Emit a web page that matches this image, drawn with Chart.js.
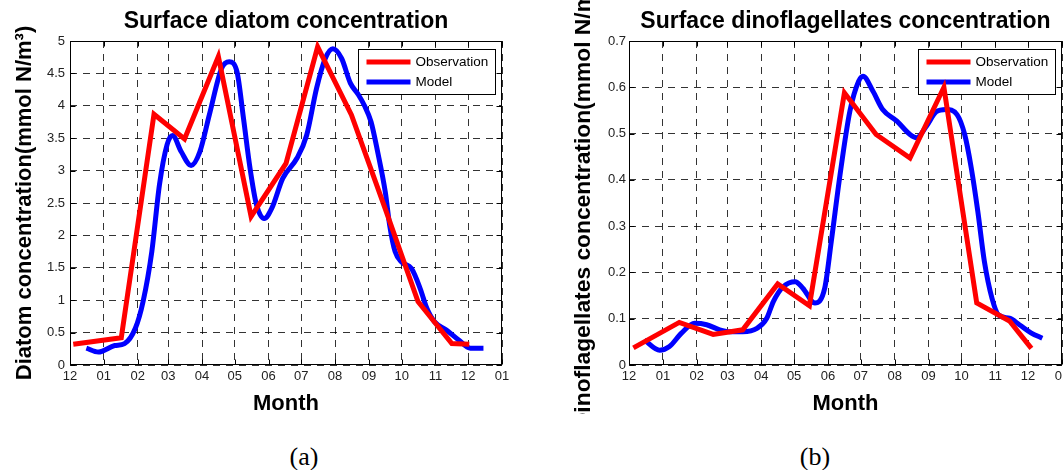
<!DOCTYPE html>
<html>
<head>
<meta charset="utf-8">
<script src="https://cdn.jsdelivr.net/npm/chart.js@4.4.1/dist/chart.umd.min.js"></script>
<style>
  html, body { margin: 0; padding: 0; background: #fff; overflow: hidden; width: 1063px; height: 470px; }
  canvas { position: absolute; top: 0; }
  #chartA { left: 0; }
  #chartB { left: 530px; }
  .tag { position: absolute; width: 120px; text-align: center; top: 442px; line-height: 30px;
         font-family: "Liberation Serif", "Times New Roman", serif; font-size: 26px; color: #000; }
</style>
</head>
<body>
<canvas id="chartA" width="530" height="414"></canvas>
<canvas id="chartB" width="545" height="414"></canvas>
<div class="tag" style="left:244px">(a)</div>
<div class="tag" style="left:755px">(b)</div>
<script>
// x axis: days counted from 1 December, one tick per month start
const monthDays = [0, 31, 62, 90, 121, 151, 182, 212, 243, 274, 304, 335, 365, 396];
const monthLabels = ['12', '01', '02', '03', '04', '05', '06', '07', '08', '09', '10', '11', '12', '01'];

// (a) surface diatom
const diatomTicks = [0, 0.5, 1, 1.5, 2, 2.5, 3, 3.5, 4, 4.5, 5];
const diatomObsDay = [3, 47, 77, 105, 136, 166, 198, 227, 258, 289, 319, 350, 366];
const diatomObs = [0.32, 0.42, 3.87, 3.49, 4.76, 2.29, 3.11, 4.91, 3.86, 2.41, 0.98, 0.33, 0.32];
const diatomModelDay = [15, 26, 41, 50, 60, 67, 75, 82, 89, 94, 102, 111, 119, 128, 139, 146, 153, 159, 165, 171,
  178, 185, 195, 208, 217, 226, 234, 241, 249, 257, 264, 270, 276, 282, 289, 293, 298, 304, 313, 321, 327, 334,
  345, 356, 367, 379];
const diatomModel = [0.26, 0.20, 0.30, 0.33, 0.57, 0.98, 1.75, 2.78, 3.40, 3.54, 3.29, 3.08, 3.29, 3.88, 4.58, 4.68,
  4.53, 3.81, 3.04, 2.47, 2.26, 2.42, 2.88, 3.19, 3.55, 4.27, 4.73, 4.88, 4.73, 4.35, 4.18, 4.00, 3.75, 3.29, 2.67,
  2.16, 1.75, 1.59, 1.49, 1.18, 0.88, 0.67, 0.54, 0.39, 0.26, 0.26];

// (b) surface dinoflagellates
const dinoTicks = [0, 0.1, 0.2, 0.3, 0.4, 0.5, 0.6, 0.7];
const dinoObsDay = [4, 46, 77, 104, 136, 165, 197, 226, 257, 288, 318, 348, 368];
const dinoObs = [0.037, 0.092, 0.066, 0.076, 0.175, 0.128, 0.588, 0.498, 0.447, 0.600, 0.134, 0.095, 0.036];
const dinoModelDay = [14, 28, 37, 48, 60, 71, 83, 92, 104, 117, 126, 132, 141, 152, 159, 170, 179, 185, 193, 202,
  210, 214, 223, 232, 245, 257, 263, 272, 281, 290, 300, 307, 313, 319, 325, 332, 338, 348, 357, 368, 378];
const dinoModel = [0.054, 0.032, 0.040, 0.069, 0.090, 0.087, 0.076, 0.072, 0.072, 0.079, 0.101, 0.137, 0.169, 0.180,
  0.166, 0.134, 0.166, 0.267, 0.411, 0.548, 0.613, 0.624, 0.592, 0.552, 0.527, 0.498, 0.491, 0.516, 0.547, 0.552,
  0.541, 0.498, 0.426, 0.332, 0.224, 0.144, 0.108, 0.101, 0.087, 0.069, 0.058];

const FONT = 'Arial, "Liberation Sans", Helvetica, sans-serif';

function pairs(days, vals) {
    return days.map((d, i) => ({ x: d, y: vals[i] }));
}

// box, inward tick marks and legend, drawn under the lines
const framePlugin = {
    id: 'frame',
    beforeDatasetsDraw(chart) {
        const { ctx, chartArea: a, scales: { x, y } } = chart;
        const L = Math.round(a.left) + 0.5, R = Math.round(a.right) - 0.5;
        const T = Math.round(a.top) + 0.5, B = Math.round(a.bottom) - 0.5;
        ctx.save();
        ctx.strokeStyle = '#000';
        ctx.lineWidth = 1;
        ctx.setLineDash([]);
        ctx.beginPath();
        x.ticks.forEach(t => {
            const px = Math.round(x.getPixelForValue(t.value)) + 0.5;
            ctx.moveTo(px, B); ctx.lineTo(px, B - 5);
            ctx.moveTo(px, T); ctx.lineTo(px, T + 5);
        });
        y.ticks.forEach(t => {
            const py = Math.round(y.getPixelForValue(t.value)) + 0.5;
            ctx.moveTo(L, py); ctx.lineTo(L + 5, py);
            ctx.moveTo(R, py); ctx.lineTo(R - 5, py);
        });
        ctx.stroke();
        ctx.strokeRect(L, T, R - L, B - T);

        // legend box
        const w = 137, h = 45;
        const lx = Math.round(a.right - 7 - w) + 0.5, ly = Math.round(a.top + 8) + 0.5;
        ctx.fillStyle = '#fff';
        ctx.fillRect(lx, ly, w, h);
        ctx.strokeRect(lx, ly, w, h);
        ctx.font = '13.5px ' + FONT;
        ctx.textBaseline = 'middle';
        chart.data.datasets.forEach((ds, i) => {
            const cy = ly + 12.5 + i * 20;
            ctx.strokeStyle = ds.borderColor;
            ctx.lineWidth = 5;
            ctx.beginPath();
            ctx.moveTo(lx + 8, cy); ctx.lineTo(lx + 52, cy);
            ctx.stroke();
            ctx.fillStyle = '#000';
            ctx.fillText(ds.label, lx + 57, cy);
        });
        ctx.restore();
    }
};

function makeChart(id, cfg) {
    const ctx = document.getElementById(id).getContext('2d');
    return new Chart(ctx, {
        type: 'line',
        data: {
            datasets: [{
                label: 'Observation',
                data: pairs(cfg.obsDay, cfg.obs),
                borderColor: '#ff0000',
                borderWidth: 5,
                pointRadius: 0,
                tension: 0,
                borderJoinStyle: 'miter'
            }, {
                label: 'Model',
                data: pairs(cfg.modelDay, cfg.model),
                borderColor: '#0000ff',
                borderWidth: 5,
                pointRadius: 0,
                cubicInterpolationMode: 'monotone'
            }]
        },
        options: {
            responsive: false,
            animation: false,
            layout: { padding: { left: 0, right: cfg.padRight, top: 0, bottom: 0 } },
            plugins: {
                legend: { display: false },
                tooltip: { enabled: false },
                title: {
                    display: true,
                    fullSize: false,
                    text: cfg.title,
                    color: '#000',
                    font: { family: FONT, size: 23, weight: 'bold', lineHeight: 1.2 },
                    padding: { top: 7.4, bottom: 6 }
                }
            },
            scales: {
                x: {
                    type: 'linear',
                    min: 0,
                    max: 396,
                    afterBuildTicks: s => { s.ticks = monthDays.map(v => ({ value: v })); },
                    afterFit: s => { s.height = 49; },
                    ticks: {
                        autoSkip: false,
                        maxRotation: 0,
                        padding: 4,
                        color: '#222',
                        font: { family: FONT, size: 13 },
                        callback: (v, i) => monthLabels[i]
                    },
                    grid: { color: 'rgba(0,0,0,0.8)', lineWidth: 1, drawTicks: false },
                    border: { display: false, dash: [7, 6] },
                    title: {
                        display: true,
                        text: 'Month',
                        color: '#000',
                        font: { family: FONT, size: 22, weight: 'bold', lineHeight: 1.2 },
                        padding: { top: 0, bottom: -3 }
                    }
                },
                y: {
                    type: 'linear',
                    min: 0,
                    max: cfg.yTicks[cfg.yTicks.length - 1],
                    afterBuildTicks: s => { s.ticks = cfg.yTicks.map(v => ({ value: v })); },
                    afterFit: s => { s.width = cfg.yWidth; },
                    ticks: {
                        padding: cfg.tickPad,
                        color: '#222',
                        font: { family: FONT, size: 13 },
                        callback: v => String(v)
                    },
                    grid: { color: 'rgba(0,0,0,0.8)', lineWidth: 1, drawTicks: false },
                    border: { display: false, dash: [7, 6] },
                    title: {
                        display: true,
                        text: cfg.yTitle,
                        color: '#000',
                        font: { family: FONT, size: cfg.yTitleSize, weight: 'bold', lineHeight: 1.2 },
                        padding: { top: cfg.yTitlePad, bottom: 0 }
                    }
                }
            }
        },
        plugins: [framePlugin]
    });
}

makeChart('chartA', {
    title: 'Surface diatom concentration',
    yTitle: 'Diatom concentration(mmol N/m³)',
    yTicks: diatomTicks,
    obsDay: diatomObsDay, obs: diatomObs,
    modelDay: diatomModelDay, model: diatomModel,
    yWidth: 70, yTitleSize: 22, yTitlePad: 11.3, tickPad: 5, padRight: 28
});

makeChart('chartB', {
    title: 'Surface dinoflagellates concentration',
    yTitle: 'Dinoflagellates concentration(mmol N/m³)',
    yTicks: dinoTicks,
    obsDay: dinoObsDay, obs: dinoObs,
    modelDay: dinoModelDay, model: dinoModel,
    yWidth: 99, yTitleSize: 22.8, yTitlePad: 39.8, tickPad: 3, padRight: 13
});
</script>
</body>
</html>
